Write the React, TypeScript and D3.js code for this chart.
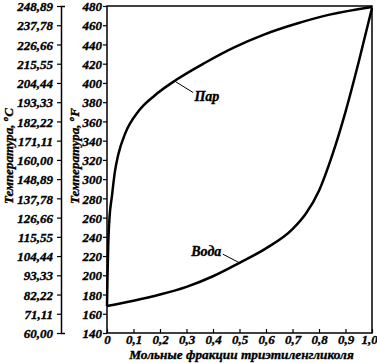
import { useEffect, useRef } from "react";
import * as d3 from "d3";

// x ticks
const xTicks = [0, 0.1, 0.2, 0.3, 0.4, 0.5, 0.6, 0.7, 0.8, 0.9, 1.0];
const xTickLabels = ["0", "0,1", "0,2", "0,3", "0,4", "0,5", "0,6", "0,7", "0,8", "0,9", "1,0"];

// fahrenheit ticks
const fTicks = [140, 160, 180, 200, 220, 240, 260, 280, 300, 320, 340, 360, 380, 400, 420, 440, 460, 480];

// celsius ticks (same positions as F)
const cTicks = [60, 71.11, 82.22, 93.33, 104.44, 115.55, 126.66, 137.78, 148.89, 160, 171.11, 182.22, 193.33, 204.44, 215.55, 226.66, 237.78, 248.89];
const cTickLabels = ["60,00", "71,11", "82,22", "93,33", "104,44", "115,55", "126,66", "137,78", "148,89", "160,00", "171,11", "182,22", "193,33", "204,44", "215,55", "226,66", "237,78", "248,89"];

// vapour curve (Пар)
const vaporX = [0, 0.002, 0.005, 0.01, 0.018, 0.03, 0.043, 0.068, 0.12, 0.18, 0.26, 0.37, 0.48, 0.59, 0.72, 0.84, 1.0];
const vaporT = [168, 200, 235, 262, 281, 308, 326, 347, 371, 387, 403, 421, 437, 450, 462, 471, 479];

// liquid curve (Вода)
const waterX = [0, 0.1, 0.2, 0.3, 0.4, 0.5, 0.6, 0.7, 0.75, 0.8, 0.85, 0.9, 0.95, 1.0];
const waterT = [168, 173.5, 180, 188, 199, 213, 228, 248, 264, 288, 325, 370, 422, 478];

const FONT = "'Liberation Serif', 'Times New Roman', serif";

export default function App() {
  const ref = useRef<SVGSVGElement>(null);

  useEffect(() => {
    const svg = d3.select(ref.current);
    svg.selectAll("*").remove();

    const left = 107, right = 372, top = 6, bottom = 333;
    const x = d3.scaleLinear().domain([0, 1]).range([left, right]);
    const y = d3.scaleLinear().domain([140, 480]).range([bottom, top]);
    const yc = d3.scaleLinear().domain([60, 248.89]).range([bottom, top]);

    const g = svg.append("g");

    // bold italic serif, with a thin stroke to make it heavier like the scan
    const styleText = (sel: any, size: number) =>
      sel.attr("font-size", size).attr("font-family", FONT)
        .attr("font-weight", "bold").attr("font-style", "italic").attr("fill", "#000")
        .attr("stroke", "#000").attr("stroke-width", 0.35);

    // frame
    g.append("rect")
      .attr("x", left).attr("y", top)
      .attr("width", right - left).attr("height", bottom - top)
      .attr("fill", "none").attr("stroke", "#000").attr("stroke-width", 1.5);

    // x axis
    const xa = g.append("g").attr("transform", `translate(0,${bottom})`)
      .call(d3.axisBottom(x).tickValues(xTicks).tickSizeInner(-4).tickSizeOuter(0)
        .tickFormat((d, i) => xTickLabels[i]));
    xa.select(".domain").remove();
    xa.selectAll("line").attr("stroke-width", 1.2);
    styleText(xa.selectAll("text").attr("y", 2), 13);
    xa.selectAll("text").filter((d: any) => d === 1).attr("dx", -3);

    // F axis
    const fa = g.append("g").attr("transform", `translate(${left},0)`)
      .call(d3.axisLeft(y).tickValues(fTicks).tickSize(4).tickPadding(1).tickSizeOuter(0));
    fa.select(".domain").remove();
    fa.selectAll("line").attr("stroke-width", 1.2);
    styleText(fa.selectAll("text").attr("dy", "0.36em"), 13);

    // C axis
    const ca = g.append("g").attr("transform", `translate(61,0)`)
      .call(d3.axisLeft(yc).tickValues(cTicks).tickSize(4).tickPadding(4).tickSizeOuter(-4)
        .tickFormat((d, i) => cTickLabels[i]));
    ca.select(".domain").attr("stroke-width", 1.5);
    ca.selectAll("line").attr("stroke-width", 1.2);
    styleText(ca.selectAll("text").attr("dy", "0.36em"), 13);

    // curves
    const line = d3.line<[number, number]>()
      .x(d => x(d[0])).y(d => y(d[1]))
      .curve(d3.curveMonotoneX);
    g.append("path")
      .datum(vaporX.map((v, i) => [v, vaporT[i]] as [number, number]))
      .attr("d", line).attr("fill", "none").attr("stroke", "#000").attr("stroke-width", 2.5);
    g.append("path")
      .datum(waterX.map((v, i) => [v, waterT[i]] as [number, number]))
      .attr("d", line).attr("fill", "none").attr("stroke", "#000").attr("stroke-width", 2.5);

    // labels with leaders
    g.append("line")
      .attr("x1", x(0.255)).attr("y1", y(402))
      .attr("x2", x(0.325)).attr("y2", y(390))
      .attr("stroke", "#000").attr("stroke-width", 1);
    styleText(g.append("text").attr("x", x(0.33)).attr("y", 101).text("Пар"), 14);

    g.append("line")
      .attr("x1", x(0.437)).attr("y1", y(222))
      .attr("x2", x(0.503)).attr("y2", y(212.5))
      .attr("stroke", "#000").attr("stroke-width", 1);
    styleText(g.append("text").attr("x", x(0.318)).attr("y", 256).text("Вода"), 14);

    // axis titles
    const ct = styleText(g.append("text")
      .attr("transform", `translate(13,156) rotate(-90)`)
      .attr("text-anchor", "middle"), 13);
    ct.append("tspan").text("Температура, ");
    ct.append("tspan").attr("dy", -5).attr("font-size", 9).text("o");
    ct.append("tspan").attr("dy", 5).text("C");

    const ft = styleText(g.append("text")
      .attr("transform", `translate(79,156) rotate(-90)`)
      .attr("text-anchor", "middle"), 13);
    ft.append("tspan").text("Температура, ");
    ft.append("tspan").attr("dy", -5).attr("font-size", 9).text("o");
    ft.append("tspan").attr("dy", 5).text("F");

    styleText(g.append("text")
      .attr("x", (left + right) / 2 + 2).attr("y", 359)
      .attr("text-anchor", "middle")
      .text("Мольные фракции триэтиленгликоля"), 13.3);
  }, []);

  return (
    <svg ref={ref} width={377} height={363}
      style={{ position: "absolute", left: 0, top: 0, background: "#fff" }} />
  );
}
